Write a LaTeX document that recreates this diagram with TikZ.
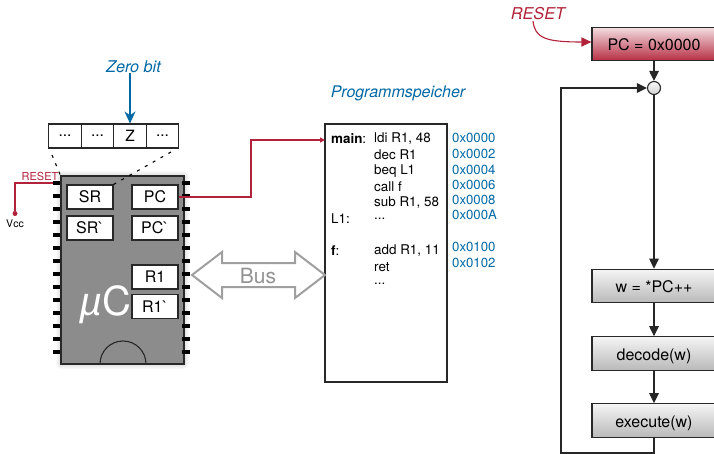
\documentclass[tikz,border=0pt]{standalone}
\usepackage{fontspec}
\setmainfont{TeX Gyre Heros}
\newfontfamily\mufont{Liberation Sans}
\newfontfamily\btfont[Ligatures=NoCommon]{TeX Gyre Heros}
\usetikzlibrary{arrows.meta,calc}
\definecolor{blu}{RGB}{0,104,165}
\definecolor{rd}{RGB}{178,34,58}
\definecolor{edge}{RGB}{40,40,40}
\newcommand{\fs}[1]{\fontsize{#1}{#1}\selectfont}
\tikzset{
 x=1pt,y=-1pt,
 reg/.style={draw=edge,line width=1.1pt,fill=white,minimum width=46pt,minimum height=24pt,inner sep=0pt,font=\fs{16}\btfont},
 cell/.style={draw=edge,line width=1.1pt,fill=white,minimum width=32.5pt,minimum height=24pt,inner sep=0pt,font=\fs{15.5}},
 flow/.style={draw=edge,line width=1.1pt,minimum width=124pt,minimum height=33.5pt,inner sep=0pt,text height=13pt,text depth=0pt,top color=gray!8,bottom color=gray!55,font=\fs{16}},
 flowred/.style={flow,top color=rd!15!white,bottom color=rd!95!white},
 conn/.style={draw=black!85,line width=1.1pt,-{Triangle[length=10pt,width=9.5pt]}},
 redconn/.style={draw=rd,line width=1.1pt,-{Triangle[length=10pt,width=9pt]}},
 pin/.style={fill=black,minimum width=7pt,minimum height=4pt,inner sep=0pt},
 code/.style={anchor=west,inner sep=0pt,font=\fs{13.4}},
 addr/.style={anchor=west,inner sep=0pt,text=blu,font=\fs{13.2}},
 softshadow/.style={fill=black,fill opacity=0.025,draw=none},
}
\begin{document}
\begin{tikzpicture}
\useasboundingbox (0,0) rectangle (714,454);
% chip shadow
\foreach \d in {1,2,3,4,5}{\fill[softshadow,rounded corners=\d pt] (61-\d,176-\d) rectangle (184+\d,364+\d);}
% pins
\foreach \k in {0,...,13}{
 \node[pin] (pl\k) at (56.5,183+13*\k) {};
 \node[pin] (pr\k) at (186,183+13*\k) {};
}
% chip
\node[draw=edge,line width=1.1pt,fill=black!45,minimum width=123pt,minimum height=188pt,inner sep=0pt] (chip) at (122.5,270) {};
\foreach \k in {0,...,13}{\node[pin,minimum width=3pt] at (183.5,183+13*\k) {};}
\draw[edge,line width=1.1pt] (100,364) arc (180:360:23);
\node[reg] (sr) at (90,197) {SR};
\node[reg] (pc) at (155,197) {PC};
\node[reg] (srb) at (90,228) {SR`};
\node[reg] (pcb) at (155,228) {PC`};
\node[reg] (r1) at (155,277) {R1};
\node[reg] (r1b) at (155,306.5) {R1`};
\node[text=white,inner sep=0pt,font=\fs{40}] (muc) at (105.5,305) {{\mufont\itshape µ}C};
% status register
\node[cell] (c1) at (65,136) {...};
\node[cell] (c2) at (97.5,136) {...};
\node[cell] (c3) at (130,136) {Z};
\node[cell] (c4) at (162.5,136) {...};
\node[text=blu,inner sep=0pt,font=\fs{16.2}\itshape] (zb) at (133.5,67) {Zero bit};
\draw[blu,line width=1.1pt,-{Stealth[length=12pt,width=11pt]}] (zb.south -| c3) -- (c3.north);
\coordinate (dl) at (52,155);
\coordinate (dr) at (171,152);
\draw[black,line width=1.1pt,dash pattern=on 3pt off 6pt] (dl) -- (chip.north west);
\draw[black,line width=1.1pt,dash pattern=on 3pt off 6pt] (dr) -- (sr.north east);
% reset on chip
\node[text=rd,inner sep=0pt,font=\fs{11}] (rs) at (40,176) {RESET};
\node[fill=rd,circle,minimum size=5pt,inner sep=0pt] (vc) at (15,213.5) {};
\node[inner sep=0pt,font=\fs{10.5}] (vcc) at (15,224) {Vcc};
\draw[rd,line width=1.1pt] (pl0.west) -| (vc.north);
% memory
\node[draw=edge,line width=1.1pt,fill=white,minimum width=122pt,minimum height=258pt,inner sep=0pt] (mem) at (386,253) {};
\node[text=blu,inner sep=0pt,font=\fs{16}\itshape] (ps) at (398,93) {Programmspeicher};
\coordinate (memin) at (325,140);
\draw[redconn,-{Triangle[length=5pt,width=5pt]}] (pc.east) -- (251,197) -- (251,140) -- (memin);
\node[code] (m1) at (331,139) {\textbf{main}:};
\node[code] (i1) at (374,139) {ldi R1, 48};
\node[code] (i2) at (374,155) {dec R1};
\node[code] (i3) at (374,171) {beq L1};
\node[code] (i4) at (374,187) {call f};
\node[code] (i5) at (374,202.5) {sub R1, 58};
\node[code] (m2) at (331,219) {L1:};
\node[code] (i6) at (374,219) {...};
\node[code] (m3) at (331,251) {\textbf{f}:};
\node[code] (i7) at (374,251) {add R1, 11};
\node[code] (i8) at (374,267) {ret};
\node[code] (i9) at (374,284) {...};
\node[addr] (a1) at (452,138) {0x0000};
\node[addr] (a2) at (452,154) {0x0002};
\node[addr] (a3) at (452,170) {0x0004};
\node[addr] (a4) at (452,185) {0x0006};
\node[addr] (a5) at (452,200) {0x0008};
\node[addr] (a6) at (452,215) {0x000A};
\node[addr] (a7) at (452,247) {0x0100};
\node[addr] (a8) at (452,263) {0x0102};
% bus
\draw[gray!75,line width=2pt,fill=white,line join=miter] (192,275) -- (222,252) -- (222,263) -- (295,263) -- (295,252) -- (325,275) -- (295,298) -- (295,287) -- (222,287) -- (222,298) -- cycle;
\node[text=gray!85,inner sep=0pt,font=\fs{21}] (bus) at (258,276) {Bus};
% flow chart
\node[flowred] (pc0) at (654,44) {PC = 0x0000};
\node[draw=edge,line width=1.1pt,circle,minimum size=13pt,inner sep=0pt,top color=gray!5,bottom color=gray!35] (j) at (654,88) {};
\node[flow] (w) at (654,286) {w = *PC++};
\node[flow] (dec) at (654,353.5) {decode(w)};
\node[flow] (ex) at (654,420.5) {execute(w)};
\draw[conn] (pc0) -- (j);
\draw[conn] (j) -- (w);
\draw[conn] (w) -- (dec);
\draw[conn] (dec) -- (ex);
\coordinate (lb) at (561,453);
\draw[conn] (ex.south) -- (654,453) -- (lb) -- (561,88) -- (j.west);
\node[text=rd,inner sep=0pt,font=\fs{16.3}\itshape] (rst) at (538,14) {RESET};
\draw[redconn] (533,21) .. controls (535,38) and (545,42) .. (pc0.west |- 0,42);
\end{tikzpicture}
\end{document}
